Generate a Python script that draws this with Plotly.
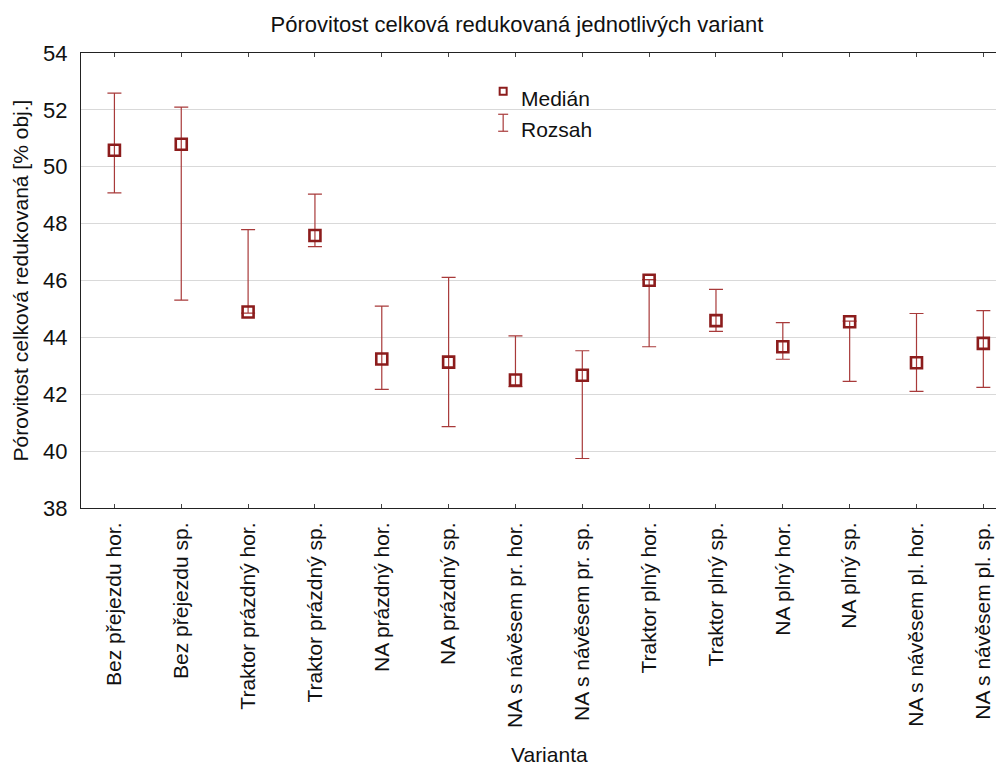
import plotly.graph_objects as go

categories = [
    "Bez přejezdu hor.", "Bez přejezdu sp.", "Traktor prázdný hor.", "Traktor prázdný sp.",
    "NA prázdný hor.", "NA prázdný sp.", "NA s návěsem pr. hor.", "NA s návěsem pr. sp.",
    "Traktor plný hor.", "Traktor plný sp.", "NA plný hor.", "NA plný sp.",
    "NA s návěsem pl. hor.", "NA s návěsem pl. sp.",
]
median = [50.58, 50.79, 44.89, 47.58, 43.24, 43.13, 42.50, 42.67, 46.01, 44.59, 43.67, 44.55, 43.11, 43.79]
range_max = [52.59, 52.10, 47.79, 49.04, 45.10, 46.11, 44.05, 43.53, 46.03, 45.69, 44.52, 44.57, 44.84, 44.94]
range_min = [49.08, 45.31, 44.85, 47.19, 42.17, 40.86, 42.27, 39.74, 43.67, 44.21, 43.23, 42.45, 42.10, 42.24]
y_ticks = [38, 40, 42, 44, 46, 48, 50, 52, 54]

title_text = "Pórovitost celková redukovaná jednotlivých variant"
y_title = "Pórovitost celková redukovaná [% obj.]"
x_title = "Varianta"
legend_labels = ["Medián", "Rozsah"]

MARK = "#8C1C1C"
ERR = "#A83A3A"
FONT = "Liberation Sans, Arial, sans-serif"

# page body has an 8px margin; work in screen pixels and subtract it
OFF = 8
W, H = 1004 - OFF, 767 - OFF
L, T = 80.7 - OFF, 52.7 - OFF
BOTTOM_PX = 508 - OFF
B = H - BOTTOM_PX
PW = W - L
PH = BOTTOM_PX - T


def px_x(p):
    return (p - OFF - L) / PW


def px_y(p):
    return (BOTTOM_PX - (p - OFF)) / PH


x_idx = list(range(len(categories)))
fig = go.Figure()
fig.add_trace(go.Scatter(
    x=x_idx, y=median, mode="markers",
    marker=dict(symbol="square-open", size=11, color=MARK, line=dict(width=2.6, color=MARK)),
    error_y=dict(type="data", symmetric=False,
                 array=[mx - m for mx, m in zip(range_max, median)],
                 arrayminus=[m - mn for m, mn in zip(median, range_min)],
                 color=ERR, thickness=1.2, width=7),
    showlegend=False, cliponaxis=False,
))

# manual legend
shapes = [
    dict(type="rect", xref="paper", yref="paper", x0=px_x(499.5), x1=px_x(506.5),
         y0=px_y(94.5), y1=px_y(87.5), line=dict(color=MARK, width=2)),
    dict(type="line", xref="paper", yref="paper", x0=px_x(503), x1=px_x(503),
         y0=px_y(114), y1=px_y(131), line=dict(color=ERR, width=1.2)),
    dict(type="line", xref="paper", yref="paper", x0=px_x(498), x1=px_x(508),
         y0=px_y(114), y1=px_y(114), line=dict(color=ERR, width=1.2)),
    dict(type="line", xref="paper", yref="paper", x0=px_x(498), x1=px_x(508),
         y0=px_y(131), y1=px_y(131), line=dict(color=ERR, width=1.2)),
]
annotations = [
    dict(text=legend_labels[0], xref="paper", yref="paper", x=px_x(519), y=px_y(98),
         xanchor="left", yanchor="middle", showarrow=False, font=dict(size=21, color="#111", family=FONT)),
    dict(text=legend_labels[1], xref="paper", yref="paper", x=px_x(519), y=px_y(129),
         xanchor="left", yanchor="middle", showarrow=False, font=dict(size=21, color="#111", family=FONT)),
    dict(text=x_title, xref="paper", yref="paper", x=px_x(549), y=px_y(755),
         xanchor="center", yanchor="middle", showarrow=False, font=dict(size=21, color="#111", family=FONT)),
    dict(text=y_title, xref="paper", yref="paper", x=px_x(20), y=px_y(280),
         xanchor="center", yanchor="middle", textangle=-90, showarrow=False,
         font=dict(size=21, color="#111", family=FONT)),
]

px_per_unit = (983.3 - 114.1) / 13

fig.update_layout(
    width=W, height=H,
    margin=dict(l=L, r=0, t=T, b=B, pad=0),
    paper_bgcolor="white", plot_bgcolor="white",
    title=dict(text=title_text, x=(517 - OFF) / W, xanchor="center", y=1 - (24 - OFF) / H, yanchor="middle",
               font=dict(size=22, color="#111", family=FONT)),
    shapes=shapes, annotations=annotations,
    font=dict(family=FONT, color="#111"),
)
fig.update_xaxes(
    range=[-0.5, -0.5 + PW / px_per_unit],
    tickmode="array", tickvals=x_idx, ticktext=categories, tickangle=-90,
    ticks="inside", ticklen=4, tickcolor="#444", tickwidth=1,
    showline=True, linecolor="#222", linewidth=1.2, mirror="ticks",
    showgrid=False, zeroline=False,
    tickfont=dict(size=21, color="#111", family=FONT),
    ticklabelstandoff=5,
)
fig.update_yaxes(
    range=[38, 54], tickmode="array", tickvals=y_ticks,
    ticks="", showline=True, linecolor="#222", linewidth=1.2, mirror=False,
    showgrid=True, gridcolor="#d9d9d9", gridwidth=1, zeroline=False,
    tickfont=dict(size=22, color="#111", family=FONT),
    ticklabelstandoff=8,
)

fig.write_html("out.html")
